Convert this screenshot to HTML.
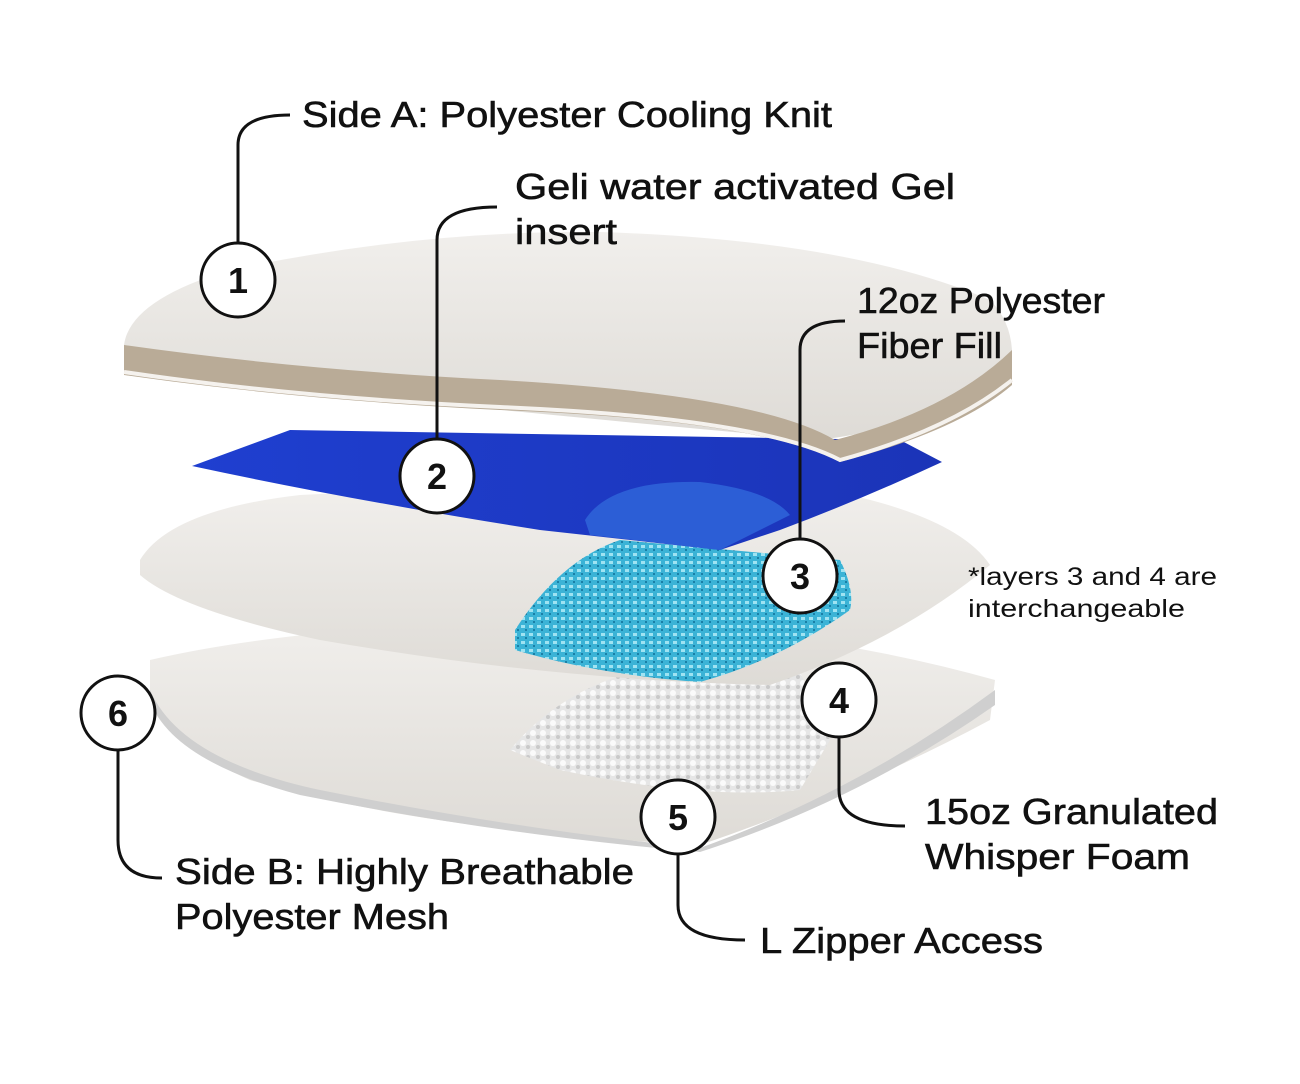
<!DOCTYPE html>
<html><head><meta charset="utf-8"><style>
html,body{margin:0;padding:0;background:#fff;}
svg{display:block}
text{font-family:"Liberation Sans",sans-serif;fill:#111;}
.lab{font-size:36px;stroke:#111;stroke-width:0.6px;}
.num{font-size:36px;font-weight:bold;text-anchor:middle;}
</style></head><body>
<svg width="1300" height="1084" viewBox="0 0 1300 1084" xmlns="http://www.w3.org/2000/svg">
<defs>
<linearGradient id="pw" x1="0" y1="0" x2="0" y2="1"><stop offset="0" stop-color="#f1efec"/><stop offset="1" stop-color="#dedbd6"/></linearGradient>
<linearGradient id="bl" x1="0" y1="0" x2="1" y2="0"><stop offset="0" stop-color="#1f3fd0"/><stop offset="1" stop-color="#1b34b8"/></linearGradient>
<pattern id="dots" width="8" height="8" patternUnits="userSpaceOnUse"><rect width="8" height="8" fill="#3bb3d6"/><rect x="1" y="1" width="4" height="3" fill="#9fe3f2"/><rect x="5" y="5" width="2" height="2" fill="#1a7fa6"/></pattern>
<pattern id="wdots" width="10" height="10" patternUnits="userSpaceOnUse"><rect width="10" height="10" fill="#e6e6e6"/><circle cx="3" cy="3" r="3" fill="#fafafa"/><circle cx="8" cy="7" r="2" fill="#c9c9c9"/></pattern>
</defs>
<path d="M150,660 Q300,625 560,620 Q800,625 995,680 L990,720 Q860,790 700,845 Q420,830 250,780 Q160,740 150,700 Z" fill="url(#pw)"/>
<path d="M150,690 Q180,760 320,790 Q520,830 700,848 Q860,790 995,690 L995,705 Q860,800 700,852 Q500,835 300,795 Q170,760 150,700 Z" fill="#cfcfcf"/>
<path d="M510,750 Q560,690 640,670 L800,672 L830,740 L800,790 Q700,800 560,770 Z" fill="url(#wdots)"/>
<path d="M140,560 Q170,510 300,495 Q600,480 850,495 Q960,520 990,565 Q900,640 770,685 Q550,680 320,640 Q180,610 140,575 Z" fill="url(#pw)"/>
<path d="M515,630 Q560,560 620,540 L840,560 Q855,590 850,610 Q780,660 700,682 Q600,675 515,650 Z" fill="url(#dots)"/>
<path d="M192,466 L290,430 L900,440 L942,462 Q860,500 780,530 L720,550 L540,530 Q350,500 192,466 Z" fill="url(#bl)"/>
<path d="M585,520 Q610,480 700,482 Q770,490 790,515 L720,550 L590,535 Z" fill="#2f63d8" opacity="0.9"/>
<path d="M124,345 Q130,300 230,270 Q420,230 600,232 Q850,240 990,300 Q1010,320 1012,350 L1012,380 Q960,420 820,440 Q600,420 400,400 Q200,390 124,370 Z" fill="url(#pw)"/>
<path d="M124,345 Q300,370 500,380 Q760,395 835,440 Q950,410 1012,350 L1012,385 Q960,430 840,462 Q760,420 500,410 Q300,400 124,375 Z" fill="#b9ab97"/>
<path d="M124,372 Q300,398 500,407 Q760,418 840,460 Q950,430 1012,380" fill="none" stroke="#f5f2ee" stroke-width="4"/>
<g fill="none" stroke="#111" stroke-width="3">
<path d="M238,243 L238,145 Q238,115 290,115"/>
<path d="M437,439 L437,240 Q437,207 497,207"/>
<path d="M800,539 L800,350 Q800,321 845,321"/>
<path d="M839,737 L839,790 Q839,826 905,826"/>
<path d="M118,750 L118,840 Q118,878 162,878"/>
<path d="M678,854 L678,905 Q678,940 745,940"/>
</g>
<g fill="#fff" stroke="#111" stroke-width="3">
<circle cx="238" cy="280" r="37"/><circle cx="437" cy="476" r="37"/><circle cx="800" cy="576" r="37"/>
<circle cx="839" cy="700" r="37"/><circle cx="118" cy="713" r="37"/><circle cx="678" cy="817" r="37"/>
</g>
<text class="num" x="238" y="293">1</text><text class="num" x="437" y="489">2</text><text class="num" x="800" y="589">3</text>
<text class="num" x="839" y="713">4</text><text class="num" x="118" y="726">6</text><text class="num" x="678" y="830">5</text>
<text class="lab" x="302" y="127" textLength="530" lengthAdjust="spacingAndGlyphs">Side A: Polyester Cooling Knit</text>
<text class="lab" x="515" y="199" textLength="440" lengthAdjust="spacingAndGlyphs">Geli water activated Gel</text>
<text class="lab" x="515" y="244" textLength="102" lengthAdjust="spacingAndGlyphs">insert</text>
<text class="lab" x="857" y="313" textLength="248" lengthAdjust="spacingAndGlyphs">12oz Polyester</text>
<text class="lab" x="857" y="358" textLength="145" lengthAdjust="spacingAndGlyphs">Fiber Fill</text>
<text x="968" y="585" style="font-size:25px" textLength="249" lengthAdjust="spacingAndGlyphs">*layers 3 and 4 are</text>
<text x="968" y="617" style="font-size:25px" textLength="217" lengthAdjust="spacingAndGlyphs">interchangeable</text>
<text class="lab" x="925" y="824" textLength="293" lengthAdjust="spacingAndGlyphs">15oz Granulated</text>
<text class="lab" x="925" y="869" textLength="265" lengthAdjust="spacingAndGlyphs">Whisper Foam</text>
<text class="lab" x="175" y="884" textLength="459" lengthAdjust="spacingAndGlyphs">Side B: Highly Breathable</text>
<text class="lab" x="175" y="929" textLength="274" lengthAdjust="spacingAndGlyphs">Polyester Mesh</text>
<text class="lab" x="760" y="953" textLength="283" lengthAdjust="spacingAndGlyphs">L Zipper Access</text>
</svg>
</body></html>
